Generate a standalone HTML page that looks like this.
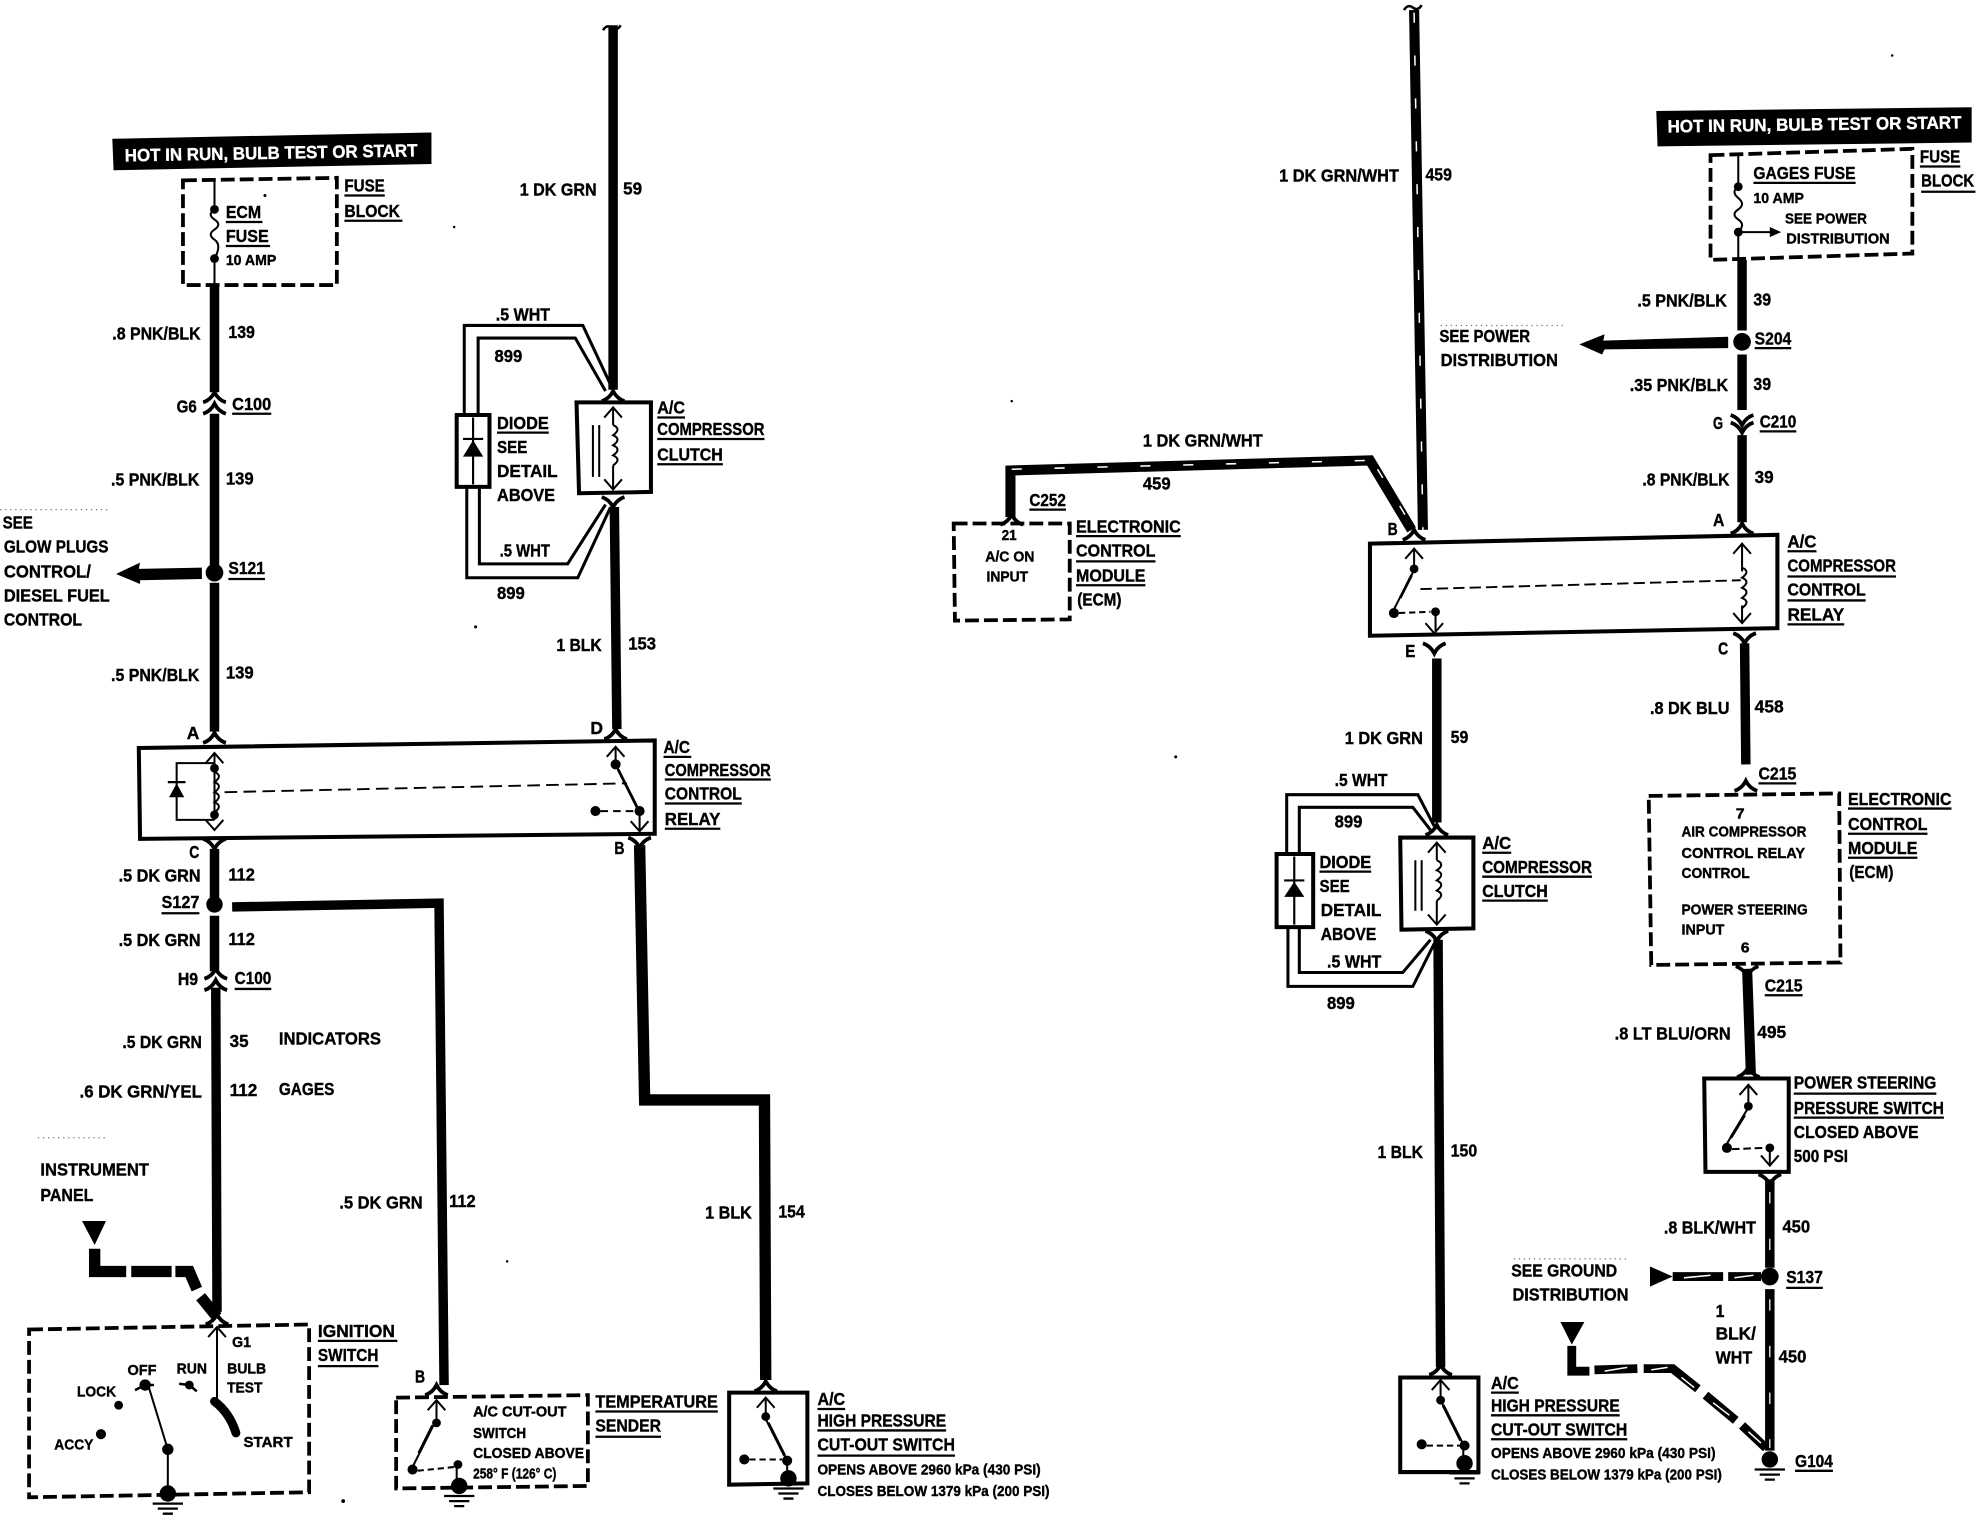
<!DOCTYPE html>
<html><head><meta charset="utf-8"><title>A/C compressor control wiring diagram</title>
<style>
html,body{margin:0;padding:0;background:#fff}
svg{display:block}
text{font-family:"Liberation Sans",sans-serif;font-weight:bold;font-size:14px;fill:#000;stroke:#000;stroke-width:.3px}
text.s{font-size:11.5px}
text.w{fill:#fff;stroke:#fff}
.k{fill:none;stroke:#000;stroke-linejoin:miter}
</style></head><body>
<svg xmlns="http://www.w3.org/2000/svg" width="1978" height="1520" viewBox="0 0 1568 1205">
<defs>
<path id="cap" d="M-9 4Q-3 2 0-4Q3 2 9 4" fill="none" stroke="#000" stroke-width="3"/>
<path id="cup" d="M-9-4Q-3-2 0 4Q3-2 9-4" fill="none" stroke="#000" stroke-width="3"/>
<path id="au" d="M-7 8L0 0L7 8" fill="none" stroke="#000" stroke-width="1.6"/>
<path id="ad" d="M-7-8L0 0L7-8" fill="none" stroke="#000" stroke-width="1.6"/>
<g id="gnd"><circle r="6.5"/><path d="M-12 8H12M-8 12H8M-4 16H4" stroke="#000" stroke-width="1.8"/></g>
<path id="coil" d="M0 0q7 3 0 8q7 3 0 8q7 3 0 8q7 3 0 8" fill="none" stroke="#000" stroke-width="1.6"/>
</defs>
<rect width="1568" height="1205" fill="#fff"/>

<!-- scan noise -->
<g fill="none" stroke="#000" stroke-width="1" stroke-dasharray="1 3" opacity=".55">
<path d="M0 404H88M30 902H85M1142 258H1240M1200 998H1290"/>
</g>
<g>
<circle cx="377" cy="497" r="1.2"/><circle cx="932" cy="600" r="1.2"/><circle cx="272" cy="1190" r="1.5"/><circle cx="802" cy="318" r="1"/><circle cx="1500" cy="44" r="1"/><circle cx="210" cy="155" r="1.2"/><circle cx="360" cy="180" r="1"/><circle cx="402" cy="1000" r="1"/>
</g>

<!-- LEFT: thick wires -->
<g class="k" stroke-width="7.5">
<path d="M170 226V311M170 328V450M170 462V580M170 673V712M170 726V770M171 783L172 1040"/>
<path d="M184 719L348 716L352 1098"/>
<path d="M486 20V309M487 402L489 578"/>
<path d="M507 670L511 872H606L607 1094" stroke-width="9"/>
</g>
<path d="M478 24q3-5 7-2t7-2" fill="none" stroke="#000" stroke-width="2"/>
<circle cx="170" cy="454" r="7"/><circle cx="170" cy="717" r="6.5"/>
<path d="M160 450L110 451L111 446L92 455L111 463V460L160 459Z"/>
<!-- hot bar -->
<path d="M89 110L342 105V130L90 135Z"/>
<text class="w" x="99" y="128" textLength="232" lengthAdjust="spacingAndGlyphs" transform="rotate(-1 99 128)">HOT IN RUN, BULB TEST OR START</text>
<!-- dashed boxes -->
<g class="k" stroke-width="3" stroke-dasharray="11 4">
<path d="M145 143L267 141V226L145 226Z"/>
<path d="M23 1054L245 1050V1183L23 1187Z"/>
<path d="M314 1108L466 1106V1178L314 1180Z"/>
<path d="M756 415H848V491L757 492Z"/>
<path d="M1356 123L1516 118V201L1356 206Z"/>
<path d="M1307 631L1458 629L1459 763L1309 765Z"/>
</g>
<!-- solid boxes -->
<g class="k" stroke-width="3.2">
<path d="M110 593L519 587V661L111 665Z"/>
<path d="M457 319H516V390L459 391Z"/>
<path d="M362 329H388V386H362Z"/>
<path d="M578 1104H640V1176L578 1177Z"/>
<path d="M1086 431L1409 424V498L1086 504Z"/>
<path d="M1110 664H1168V736L1111 737Z"/>
<path d="M1012 677H1041V735H1012Z"/>
<path d="M1110 1092H1172V1167H1110Z"/>
<path d="M1351 855H1418V929L1352 929Z"/>
</g>
<!-- fuse left -->
<path class="k" stroke-width="1.6" d="M170 143V166q-6 4 0 8t0 8t0 8t0 15V226"/>
<circle cx="170" cy="166" r="3.5"/><circle cx="170" cy="205" r="3.5"/>
<!-- left connectors -->
<use href="#cap" x="170" y="315"/><use href="#cap" x="170" y="324"/>
<use href="#cap" x="170" y="585"/><use href="#au" x="170" y="597"/>
<use href="#ad" x="170" y="658"/><use href="#cup" x="170" y="669"/>
<use href="#cap" x="171" y="772"/><use href="#cap" x="171" y="781"/>
<use href="#cap" x="172" y="1046"/><use href="#au" x="172" y="1052"/>
<use href="#cap" x="488" y="582"/><use href="#au" x="488" y="592"/>
<use href="#ad" x="507" y="659"/><use href="#cup" x="507" y="668"/>
<use href="#cap" x="486" y="314"/><use href="#au" x="486" y="323"/>
<use href="#ad" x="486" y="388"/><use href="#cup" x="486" y="398"/>
<use href="#cap" x="346" y="1102"/><use href="#au" x="346" y="1110"/>
<use href="#cap" x="607" y="1099"/><use href="#au" x="607" y="1108"/>
<!-- left relay internals -->
<path class="k" stroke-width="1.6" d="M170 597V650M170 605H140V650H170"/>
<use href="#coil" x="170" y="612"/>
<circle cx="170" cy="609" r="3.5"/><circle cx="170" cy="646" r="3.5"/>
<path d="M134 632H146L140 621Z"/><path class="k" stroke-width="1.8" d="M133 620H147"/>
<path class="k" stroke-width="1.5" stroke-dasharray="10 5" d="M178 628L497 621"/>
<path class="k" stroke-width="1.6" d="M488 592V606L507 643V659"/>
<path class="k" stroke-width="2.2" d="M490 610L505 640"/>
<circle cx="488" cy="606" r="4"/><circle cx="507" cy="643" r="4"/><circle cx="472" cy="643" r="4"/>
<path class="k" stroke-width="1.6" stroke-dasharray="6 4" d="M476 643H503"/>
<!-- left clutch -->
<use href="#coil" x="486" y="337"/>
<path class="k" stroke-width="1.6" d="M486 323V337M486 369V388M470 337V378M475 337V378"/>
<!-- left diode wires -->
<g class="k" stroke-width="2.4">
<path d="M368 329V258H462L484 305"/><path d="M379 329V268H456L480 310"/>
<path d="M370 386V458H458L484 402"/><path d="M380 386V447H450L480 400"/>
</g>
<path d="M367 362H383L375 349Z"/>
<path class="k" stroke-width="1.7" d="M375 331V384M367 348H383"/>
<!-- ignition -->
<path class="k" stroke-width="1.6" d="M172 1052V1112M118 1100L133 1149V1180"/>
<path class="k" stroke-width="7" stroke-linecap="round" d="M170 1111Q182 1120 187 1136"/>
<circle cx="133" cy="1149" r="4.5"/><circle cx="115" cy="1098" r="4.5"/><circle cx="150" cy="1098" r="3.5"/><circle cx="94" cy="1114" r="3.5"/><circle cx="80" cy="1137" r="4"/>
<path class="k" stroke-width="2" d="M107 1102L115 1098H122M142 1097L150 1098L156 1103"/>
<use href="#gnd" x="133" y="1184"/>
<path d="M65 968H84L75 987Z"/>
<g class="k" stroke-width="9"><path d="M75 990V1008H100"/><path d="M104 1008H136M139 1008H150L156 1022M159 1028L172 1044"/></g>
<!-- temp switch -->
<path class="k" stroke-width="1.6" d="M346 1110V1125L326 1165M326 1165L330 1167M362 1160V1180"/>
<path class="k" stroke-width="2.4" d="M343 1130L332 1152"/>
<circle cx="346" cy="1128" r="3.5"/><circle cx="327" cy="1165" r="4"/><circle cx="363" cy="1161" r="3.5"/>
<path class="k" stroke-width="1.6" stroke-dasharray="5 3" d="M331 1166L360 1163"/>
<use href="#gnd" x="364" y="1178"/>
<!-- left HP switch -->
<path class="k" stroke-width="1.6" d="M607 1108V1125L624 1158V1170"/><path class="k" stroke-width="2.4" d="M609 1128L622 1154"/>
<circle cx="607" cy="1123" r="3.5"/><circle cx="624" cy="1158" r="4"/><circle cx="590" cy="1157" r="4"/>
<path class="k" stroke-width="1.6" stroke-dasharray="5 3" d="M594 1157H620"/>
<use href="#gnd" x="625" y="1172"/>

<!-- RIGHT wires -->
<g class="k" stroke-width="8"><path d="M1121 8L1128 420"/><path d="M801 410V373L1086 365L1119 420"/></g>
<path d="M1113 8q3-5 7-2t7-2" fill="none" stroke="#000" stroke-width="2"/>
<g class="k" style="stroke:#fff" stroke-width="1.2" stroke-dasharray="8 26"><path d="M1121 10L1128 420"/><path d="M802 372L1085 365"/><path d="M1092 372L1118 415"/></g>
<g class="k" stroke-width="7.5">
<path d="M1381 206V262M1381 281V325M1381 345V414M1383 510L1384 606"/>
<path d="M1385 768L1388 852" stroke-width="8"/>
<path d="M1403 935V1005M1403 1022V1150"/>
<path d="M1139 522V652M1140 745L1142 1084"/>
</g>
<g class="k" style="stroke:#fff" stroke-width="1" stroke-dasharray="9 28"><path d="M1403 945V1000M1403 1030V1148"/></g>
<circle cx="1381" cy="271" r="7"/><circle cx="1403" cy="1012" r="7"/>
<path d="M1370 267L1271 270L1272 265L1252 273L1270 281L1272 277L1370 276Z"/>
<path d="M1313 88V88L1563 85V113L1314 116Z"/>
<text class="w" x="1322" y="105" textLength="233" lengthAdjust="spacingAndGlyphs" transform="rotate(-.8 1322 105)">HOT IN RUN, BULB TEST OR START</text>
<path class="k" stroke-width="1.6" d="M1378 123V148q-6 4 0 9t0 9t0 8t0 10V205M1378 184H1404"/>
<circle cx="1378" cy="148" r="3.5"/><circle cx="1378" cy="184" r="3.5"/><path d="M1403 180L1412 184L1403 188Z"/>
<!-- right connectors -->
<use href="#cup" x="1381" y="333"/><use href="#cup" x="1381" y="339"/>
<use href="#cap" x="1381" y="419"/><use href="#au" x="1381" y="431"/>
<use href="#ad" x="1381" y="494"/><use href="#cup" x="1383" y="506"/>
<use href="#cap" x="1121" y="424"/><use href="#au" x="1121" y="435"/>
<use href="#ad" x="1137" y="502"/><use href="#cup" x="1137" y="514"/>
<use href="#cap" x="802" y="412"/>
<use href="#cap" x="1384" y="623"/><use href="#cup" x="1385" y="770"/>
<use href="#cap" x="1139" y="658"/><use href="#au" x="1139" y="668"/>
<use href="#ad" x="1139" y="733"/><use href="#cup" x="1139" y="742"/>
<use href="#cap" x="1386" y="850"/><use href="#au" x="1386" y="860"/>
<use href="#ad" x="1403" y="924"/><use href="#cup" x="1403" y="935"/>
<use href="#cap" x="1142" y="1086"/><use href="#au" x="1142" y="1094"/>
<!-- right relay internals -->
<path class="k" stroke-width="1.6" d="M1381 431V453M1381 480V494"/><use href="#coil" x="1381" y="450"/>
<path class="k" stroke-width="1.5" stroke-dasharray="9 4" d="M1126 467L1380 460"/>
<path class="k" stroke-width="1.6" d="M1121 435V452L1104 485M1138 486V500"/><path class="k" stroke-width="2.2" d="M1119 456L1110 474"/>
<circle cx="1121" cy="451" r="3.5"/><circle cx="1105" cy="486" r="4"/><circle cx="1138" cy="485" r="3.5"/>
<path class="k" stroke-width="1.6" stroke-dasharray="5 3" d="M1109 486L1134 485"/>
<!-- right clutch & diode -->
<use href="#coil" x="1139" y="682"/><path class="k" stroke-width="1.6" d="M1139 668V682M1139 714V733M1122 682V722M1127 682V722"/>
<g class="k" stroke-width="2.4">
<path d="M1020 677V630H1124L1137 655"/><path d="M1030 677V640H1120L1134 658"/>
<path d="M1021 735V782H1120L1137 748"/><path d="M1030 735V771H1112L1134 745"/>
</g>
<path d="M1018 711H1034L1026 699Z"/>
<path class="k" stroke-width="1.7" d="M1026 679V733M1018 698H1034"/>
<!-- PS switch -->
<path class="k" stroke-width="1.6" d="M1386 860V878L1367 910M1403 912V924"/><path class="k" stroke-width="2.4" d="M1383 884L1372 902"/>
<circle cx="1386" cy="877" r="3.5"/><circle cx="1369" cy="910" r="4"/><circle cx="1403" cy="910" r="3.5"/>
<path class="k" stroke-width="1.6" stroke-dasharray="6 3" d="M1373 911L1399 910"/>
<!-- S137 stub -->
<path d="M1308 1004L1326 1012L1308 1020Z"/>
<path class="k" stroke-width="7" d="M1326 1012H1366M1370 1012H1396"/>
<path d="M1237 1048H1256L1246 1066Z"/>
<path class="k" stroke-width="7" d="M1246 1067V1087H1260"/>
<path class="k" stroke-width="7" d="M1264 1086L1298 1085M1303 1085H1326L1346 1101M1352 1106L1376 1126M1381 1130L1400 1148"/>
<g class="k" style="stroke:#fff" stroke-width="1.2"><path d="M1335 1013L1356 1011M1375 1013L1390 1011M1272 1087L1290 1084M1309 1086L1322 1084M1333 1092L1343 1100M1358 1112L1371 1122M1386 1135L1396 1144"/></g>
<use href="#gnd" x="1403" y="1157"/>
<!-- right HP switch -->
<path class="k" stroke-width="1.6" d="M1142 1094V1110L1160 1145V1156"/><path class="k" stroke-width="2.4" d="M1144 1114L1158 1142"/>
<circle cx="1142" cy="1110" r="3.5"/><circle cx="1161" cy="1146" r="4"/><circle cx="1127" cy="1145" r="4"/>
<path class="k" stroke-width="1.6" stroke-dasharray="5 3" d="M1131 1146H1157"/>
<use href="#gnd" x="1161" y="1160"/>

<!-- underlines -->
<path stroke="#000" stroke-width="1.8" fill="none" d="M179 176H208M179 195H214M273 155H305M273 175H319M184 328H215M181 459H210M526 600H548M527 618H611M527 637H588M527 657H571M128 724H158M186 784H215M252 1063H315M252 1083H300M472 1119H569M472 1139H524M394 343H435M521 331H543M521 348H606M521 368H573M648 1117H670M648 1134H750M648 1154H757M1390 145H1471M1522 132H1554M1523 152H1566M1391 276H1420M1395 342H1424M1417 437H1440M1417 457H1503M1417 476H1479M1417 495H1462M1394 621H1424M1465 641H1547M1465 661H1528M1465 680H1520M1399 789H1429M1422 867H1535M1422 886H1541M1416 1021H1445M1423 1166H1453M1046 691H1087M1175 676H1198M1175 695H1262M1175 714H1227M1182 1104H1204M1182 1122H1284M1182 1141H1290M816 404H845M853 425H936M853 445H916M853 464H908"/>

<!-- left labels -->
<text x="179" y="173" textLength="28" lengthAdjust="spacingAndGlyphs">ECM</text>
<text x="179" y="192" textLength="34" lengthAdjust="spacingAndGlyphs">FUSE</text>
<text class="s" x="179" y="210" textLength="40" lengthAdjust="spacingAndGlyphs">10 AMP</text>
<text x="273" y="152" textLength="32" lengthAdjust="spacingAndGlyphs">FUSE</text>
<text x="273" y="172" textLength="44" lengthAdjust="spacingAndGlyphs">BLOCK</text>
<text x="89" y="269" textLength="70" lengthAdjust="spacingAndGlyphs">.8 PNK/BLK</text>
<text x="181" y="268" textLength="21" lengthAdjust="spacingAndGlyphs">139</text>
<text x="140" y="327" textLength="16" lengthAdjust="spacingAndGlyphs">G6</text>
<text x="184" y="325" textLength="31" lengthAdjust="spacingAndGlyphs">C100</text>
<text x="88" y="385" textLength="70" lengthAdjust="spacingAndGlyphs">.5 PNK/BLK</text>
<text x="179" y="384" textLength="22" lengthAdjust="spacingAndGlyphs">139</text>
<text x="2" y="419" textLength="24" lengthAdjust="spacingAndGlyphs">SEE</text>
<text x="3" y="438" textLength="83" lengthAdjust="spacingAndGlyphs">GLOW PLUGS</text>
<text x="3" y="458" textLength="69" lengthAdjust="spacingAndGlyphs">CONTROL/</text>
<text x="3" y="477" textLength="84" lengthAdjust="spacingAndGlyphs">DIESEL FUEL</text>
<text x="3" y="496" textLength="62" lengthAdjust="spacingAndGlyphs">CONTROL</text>
<text x="181" y="455" textLength="29" lengthAdjust="spacingAndGlyphs">S121</text>
<text x="88" y="540" textLength="70" lengthAdjust="spacingAndGlyphs">.5 PNK/BLK</text>
<text x="179" y="538" textLength="22" lengthAdjust="spacingAndGlyphs">139</text>
<text x="148" y="586" textLength="10" lengthAdjust="spacingAndGlyphs">A</text>
<text x="468" y="582" textLength="10" lengthAdjust="spacingAndGlyphs">D</text>
<text x="526" y="597" textLength="21" lengthAdjust="spacingAndGlyphs">A/C</text>
<text x="527" y="615" textLength="84" lengthAdjust="spacingAndGlyphs">COMPRESSOR</text>
<text x="527" y="634" textLength="61" lengthAdjust="spacingAndGlyphs">CONTROL</text>
<text x="527" y="654" textLength="44" lengthAdjust="spacingAndGlyphs">RELAY</text>
<text x="150" y="680" textLength="8" lengthAdjust="spacingAndGlyphs">C</text>
<text x="487" y="677" textLength="8" lengthAdjust="spacingAndGlyphs">B</text>
<text x="94" y="699" textLength="65" lengthAdjust="spacingAndGlyphs">.5 DK GRN</text>
<text x="181" y="698" textLength="21" lengthAdjust="spacingAndGlyphs">112</text>
<text x="128" y="720" textLength="30" lengthAdjust="spacingAndGlyphs">S127</text>
<text x="94" y="750" textLength="65" lengthAdjust="spacingAndGlyphs">.5 DK GRN</text>
<text x="181" y="749" textLength="21" lengthAdjust="spacingAndGlyphs">112</text>
<text x="141" y="781" textLength="16" lengthAdjust="spacingAndGlyphs">H9</text>
<text x="186" y="780" textLength="29" lengthAdjust="spacingAndGlyphs">C100</text>
<text x="97" y="831" textLength="63" lengthAdjust="spacingAndGlyphs">.5 DK GRN</text>
<text x="182" y="830" textLength="15" lengthAdjust="spacingAndGlyphs">35</text>
<text x="221" y="828" textLength="81" lengthAdjust="spacingAndGlyphs">INDICATORS</text>
<text x="63" y="870" textLength="97" lengthAdjust="spacingAndGlyphs">.6 DK GRN/YEL</text>
<text x="182" y="869" textLength="22" lengthAdjust="spacingAndGlyphs">112</text>
<text x="221" y="868" textLength="44" lengthAdjust="spacingAndGlyphs">GAGES</text>
<text x="32" y="932" textLength="86" lengthAdjust="spacingAndGlyphs">INSTRUMENT</text>
<text x="32" y="952" textLength="42" lengthAdjust="spacingAndGlyphs">PANEL</text>
<text x="252" y="1060" textLength="61" lengthAdjust="spacingAndGlyphs">IGNITION</text>
<text x="252" y="1079" textLength="48" lengthAdjust="spacingAndGlyphs">SWITCH</text>
<text class="s" x="184" y="1068" textLength="15" lengthAdjust="spacingAndGlyphs">G1</text>
<text class="s" x="101" y="1090" textLength="23" lengthAdjust="spacingAndGlyphs">OFF</text>
<text class="s" x="140" y="1089" textLength="24" lengthAdjust="spacingAndGlyphs">RUN</text>
<text class="s" x="180" y="1089" textLength="31" lengthAdjust="spacingAndGlyphs">BULB</text>
<text class="s" x="180" y="1104" textLength="28" lengthAdjust="spacingAndGlyphs">TEST</text>
<text class="s" x="61" y="1107" textLength="31" lengthAdjust="spacingAndGlyphs">LOCK</text>
<text class="s" x="43" y="1149" textLength="31" lengthAdjust="spacingAndGlyphs">ACCY</text>
<text class="s" x="193" y="1147" textLength="39" lengthAdjust="spacingAndGlyphs">START</text>
<text x="329" y="1096" textLength="8" lengthAdjust="spacingAndGlyphs">B</text>
<text class="s" x="375" y="1123" textLength="74" lengthAdjust="spacingAndGlyphs">A/C CUT-OUT</text>
<text class="s" x="375" y="1140" textLength="42" lengthAdjust="spacingAndGlyphs">SWITCH</text>
<text class="s" x="375" y="1156" textLength="88" lengthAdjust="spacingAndGlyphs">CLOSED ABOVE</text>
<text class="s" x="375" y="1172" textLength="66" lengthAdjust="spacingAndGlyphs">258° F (126° C)</text>
<text x="472" y="1116" textLength="97" lengthAdjust="spacingAndGlyphs">TEMPERATURE</text>
<text x="472" y="1135" textLength="52" lengthAdjust="spacingAndGlyphs">SENDER</text>
<text x="269" y="958" textLength="66" lengthAdjust="spacingAndGlyphs">.5 DK GRN</text>
<text x="356" y="957" textLength="21" lengthAdjust="spacingAndGlyphs">112</text>
<text x="559" y="966" textLength="37" lengthAdjust="spacingAndGlyphs">1 BLK</text>
<text x="617" y="965" textLength="21" lengthAdjust="spacingAndGlyphs">154</text>
<text x="412" y="155" textLength="61" lengthAdjust="spacingAndGlyphs">1 DK GRN</text>
<text x="494" y="154" textLength="15" lengthAdjust="spacingAndGlyphs">59</text>
<text x="393" y="254" textLength="43" lengthAdjust="spacingAndGlyphs">.5 WHT</text>
<text x="392" y="287" textLength="22" lengthAdjust="spacingAndGlyphs">899</text>
<text x="394" y="340" textLength="41" lengthAdjust="spacingAndGlyphs">DIODE</text>
<text x="394" y="359" textLength="24" lengthAdjust="spacingAndGlyphs">SEE</text>
<text x="394" y="378" textLength="48" lengthAdjust="spacingAndGlyphs">DETAIL</text>
<text x="394" y="397" textLength="46" lengthAdjust="spacingAndGlyphs">ABOVE</text>
<text x="521" y="328" textLength="22" lengthAdjust="spacingAndGlyphs">A/C</text>
<text x="521" y="345" textLength="85" lengthAdjust="spacingAndGlyphs">COMPRESSOR</text>
<text x="521" y="365" textLength="52" lengthAdjust="spacingAndGlyphs">CLUTCH</text>
<text x="396" y="441" textLength="40" lengthAdjust="spacingAndGlyphs">.5 WHT</text>
<text x="394" y="475" textLength="22" lengthAdjust="spacingAndGlyphs">899</text>
<text x="441" y="516" textLength="36" lengthAdjust="spacingAndGlyphs">1 BLK</text>
<text x="498" y="515" textLength="22" lengthAdjust="spacingAndGlyphs">153</text>
<text x="648" y="1114" textLength="22" lengthAdjust="spacingAndGlyphs">A/C</text>
<text x="648" y="1131" textLength="102" lengthAdjust="spacingAndGlyphs">HIGH PRESSURE</text>
<text x="648" y="1150" textLength="109" lengthAdjust="spacingAndGlyphs">CUT-OUT SWITCH</text>
<text class="s" x="648" y="1169" textLength="177" lengthAdjust="spacingAndGlyphs">OPENS ABOVE 2960 kPa (430 PSI)</text>
<text class="s" x="648" y="1186" textLength="184" lengthAdjust="spacingAndGlyphs">CLOSES BELOW 1379 kPa (200 PSI)</text>

<!-- right labels -->
<text x="1014" y="144" textLength="95" lengthAdjust="spacingAndGlyphs">1 DK GRN/WHT</text>
<text x="1130" y="143" textLength="21" lengthAdjust="spacingAndGlyphs">459</text>
<text x="1390" y="142" textLength="81" lengthAdjust="spacingAndGlyphs">GAGES FUSE</text>
<text class="s" x="1390" y="161" textLength="40" lengthAdjust="spacingAndGlyphs">10 AMP</text>
<text class="s" x="1415" y="177" textLength="65" lengthAdjust="spacingAndGlyphs">SEE POWER</text>
<text class="s" x="1416" y="193" textLength="82" lengthAdjust="spacingAndGlyphs">DISTRIBUTION</text>
<text x="1522" y="129" textLength="32" lengthAdjust="spacingAndGlyphs">FUSE</text>
<text x="1523" y="148" textLength="42" lengthAdjust="spacingAndGlyphs">BLOCK</text>
<text x="1298" y="243" textLength="71" lengthAdjust="spacingAndGlyphs">.5 PNK/BLK</text>
<text x="1390" y="242" textLength="14" lengthAdjust="spacingAndGlyphs">39</text>
<text x="1391" y="273" textLength="29" lengthAdjust="spacingAndGlyphs">S204</text>
<text x="1141" y="271" textLength="72" lengthAdjust="spacingAndGlyphs">SEE POWER</text>
<text x="1142" y="290" textLength="93" lengthAdjust="spacingAndGlyphs">DISTRIBUTION</text>
<text x="1292" y="310" textLength="78" lengthAdjust="spacingAndGlyphs">.35 PNK/BLK</text>
<text x="1390" y="309" textLength="14" lengthAdjust="spacingAndGlyphs">39</text>
<text x="1358" y="340" textLength="8" lengthAdjust="spacingAndGlyphs">G</text>
<text x="1395" y="339" textLength="29" lengthAdjust="spacingAndGlyphs">C210</text>
<text x="1302" y="385" textLength="69" lengthAdjust="spacingAndGlyphs">.8 PNK/BLK</text>
<text x="1391" y="383" textLength="15" lengthAdjust="spacingAndGlyphs">39</text>
<text x="1358" y="417" textLength="9" lengthAdjust="spacingAndGlyphs">A</text>
<text x="1100" y="424" textLength="8" lengthAdjust="spacingAndGlyphs">B</text>
<text x="1114" y="521" textLength="8" lengthAdjust="spacingAndGlyphs">E</text>
<text x="1362" y="519" textLength="8" lengthAdjust="spacingAndGlyphs">C</text>
<text x="1417" y="434" textLength="23" lengthAdjust="spacingAndGlyphs">A/C</text>
<text x="1417" y="453" textLength="86" lengthAdjust="spacingAndGlyphs">COMPRESSOR</text>
<text x="1417" y="472" textLength="62" lengthAdjust="spacingAndGlyphs">CONTROL</text>
<text x="1417" y="492" textLength="45" lengthAdjust="spacingAndGlyphs">RELAY</text>
<text x="1308" y="566" textLength="63" lengthAdjust="spacingAndGlyphs">.8 DK BLU</text>
<text x="1391" y="565" textLength="23" lengthAdjust="spacingAndGlyphs">458</text>
<text x="1394" y="618" textLength="30" lengthAdjust="spacingAndGlyphs">C215</text>
<text class="s" x="1376" y="649" textLength="7" lengthAdjust="spacingAndGlyphs">7</text>
<text class="s" x="1333" y="663" textLength="99" lengthAdjust="spacingAndGlyphs">AIR COMPRESSOR</text>
<text class="s" x="1333" y="680" textLength="98" lengthAdjust="spacingAndGlyphs">CONTROL RELAY</text>
<text class="s" x="1333" y="696" textLength="54" lengthAdjust="spacingAndGlyphs">CONTROL</text>
<text class="s" x="1333" y="725" textLength="100" lengthAdjust="spacingAndGlyphs">POWER STEERING</text>
<text class="s" x="1333" y="741" textLength="34" lengthAdjust="spacingAndGlyphs">INPUT</text>
<text class="s" x="1380" y="755" textLength="7" lengthAdjust="spacingAndGlyphs">6</text>
<text x="1465" y="638" textLength="82" lengthAdjust="spacingAndGlyphs">ELECTRONIC</text>
<text x="1465" y="658" textLength="63" lengthAdjust="spacingAndGlyphs">CONTROL</text>
<text x="1465" y="677" textLength="55" lengthAdjust="spacingAndGlyphs">MODULE</text>
<text x="1466" y="696" textLength="35" lengthAdjust="spacingAndGlyphs">(ECM)</text>
<text x="1399" y="786" textLength="30" lengthAdjust="spacingAndGlyphs">C215</text>
<text x="1280" y="824" textLength="92" lengthAdjust="spacingAndGlyphs">.8 LT BLU/ORN</text>
<text x="1393" y="823" textLength="23" lengthAdjust="spacingAndGlyphs">495</text>
<text x="1422" y="863" textLength="113" lengthAdjust="spacingAndGlyphs">POWER STEERING</text>
<text x="1422" y="883" textLength="119" lengthAdjust="spacingAndGlyphs">PRESSURE SWITCH</text>
<text x="1422" y="902" textLength="99" lengthAdjust="spacingAndGlyphs">CLOSED ABOVE</text>
<text x="1422" y="921" textLength="43" lengthAdjust="spacingAndGlyphs">500 PSI</text>
<text x="1319" y="978" textLength="73" lengthAdjust="spacingAndGlyphs">.8 BLK/WHT</text>
<text x="1413" y="977" textLength="22" lengthAdjust="spacingAndGlyphs">450</text>
<text x="1416" y="1017" textLength="29" lengthAdjust="spacingAndGlyphs">S137</text>
<text x="1198" y="1012" textLength="84" lengthAdjust="spacingAndGlyphs">SEE GROUND</text>
<text x="1199" y="1031" textLength="92" lengthAdjust="spacingAndGlyphs">DISTRIBUTION</text>
<text x="1360" y="1044" textLength="7" lengthAdjust="spacingAndGlyphs">1</text>
<text x="1360" y="1062" textLength="32" lengthAdjust="spacingAndGlyphs">BLK/</text>
<text x="1360" y="1081" textLength="29" lengthAdjust="spacingAndGlyphs">WHT</text>
<text x="1410" y="1080" textLength="22" lengthAdjust="spacingAndGlyphs">450</text>
<text x="1423" y="1163" textLength="30" lengthAdjust="spacingAndGlyphs">G104</text>
<text x="1066" y="590" textLength="62" lengthAdjust="spacingAndGlyphs">1 DK GRN</text>
<text x="1150" y="589" textLength="14" lengthAdjust="spacingAndGlyphs">59</text>
<text x="1058" y="623" textLength="42" lengthAdjust="spacingAndGlyphs">.5 WHT</text>
<text x="1058" y="656" textLength="22" lengthAdjust="spacingAndGlyphs">899</text>
<text x="1046" y="688" textLength="41" lengthAdjust="spacingAndGlyphs">DIODE</text>
<text x="1046" y="707" textLength="24" lengthAdjust="spacingAndGlyphs">SEE</text>
<text x="1047" y="726" textLength="48" lengthAdjust="spacingAndGlyphs">DETAIL</text>
<text x="1047" y="745" textLength="44" lengthAdjust="spacingAndGlyphs">ABOVE</text>
<text x="1052" y="767" textLength="43" lengthAdjust="spacingAndGlyphs">.5 WHT</text>
<text x="1052" y="800" textLength="22" lengthAdjust="spacingAndGlyphs">899</text>
<text x="1175" y="673" textLength="23" lengthAdjust="spacingAndGlyphs">A/C</text>
<text x="1175" y="692" textLength="87" lengthAdjust="spacingAndGlyphs">COMPRESSOR</text>
<text x="1175" y="711" textLength="52" lengthAdjust="spacingAndGlyphs">CLUTCH</text>
<text x="1092" y="918" textLength="36" lengthAdjust="spacingAndGlyphs">1 BLK</text>
<text x="1150" y="917" textLength="21" lengthAdjust="spacingAndGlyphs">150</text>
<text x="1182" y="1101" textLength="22" lengthAdjust="spacingAndGlyphs">A/C</text>
<text x="1182" y="1119" textLength="102" lengthAdjust="spacingAndGlyphs">HIGH PRESSURE</text>
<text x="1182" y="1138" textLength="108" lengthAdjust="spacingAndGlyphs">CUT-OUT SWITCH</text>
<text class="s" x="1182" y="1156" textLength="178" lengthAdjust="spacingAndGlyphs">OPENS ABOVE 2960 kPa (430 PSI)</text>
<text class="s" x="1182" y="1173" textLength="183" lengthAdjust="spacingAndGlyphs">CLOSES BELOW 1379 kPa (200 PSI)</text>
<text class="s" x="794" y="428" textLength="12" lengthAdjust="spacingAndGlyphs">21</text>
<text class="s" x="781" y="445" textLength="39" lengthAdjust="spacingAndGlyphs">A/C ON</text>
<text class="s" x="782" y="461" textLength="33" lengthAdjust="spacingAndGlyphs">INPUT</text>
<text x="816" y="401" textLength="29" lengthAdjust="spacingAndGlyphs">C252</text>
<text x="853" y="422" textLength="83" lengthAdjust="spacingAndGlyphs">ELECTRONIC</text>
<text x="853" y="441" textLength="63" lengthAdjust="spacingAndGlyphs">CONTROL</text>
<text x="853" y="461" textLength="55" lengthAdjust="spacingAndGlyphs">MODULE</text>
<text x="854" y="480" textLength="35" lengthAdjust="spacingAndGlyphs">(ECM)</text>
<text x="906" y="354" textLength="95" lengthAdjust="spacingAndGlyphs">1 DK GRN/WHT</text>
<text x="906" y="388" textLength="22" lengthAdjust="spacingAndGlyphs">459</text>
</svg>
</body></html>
